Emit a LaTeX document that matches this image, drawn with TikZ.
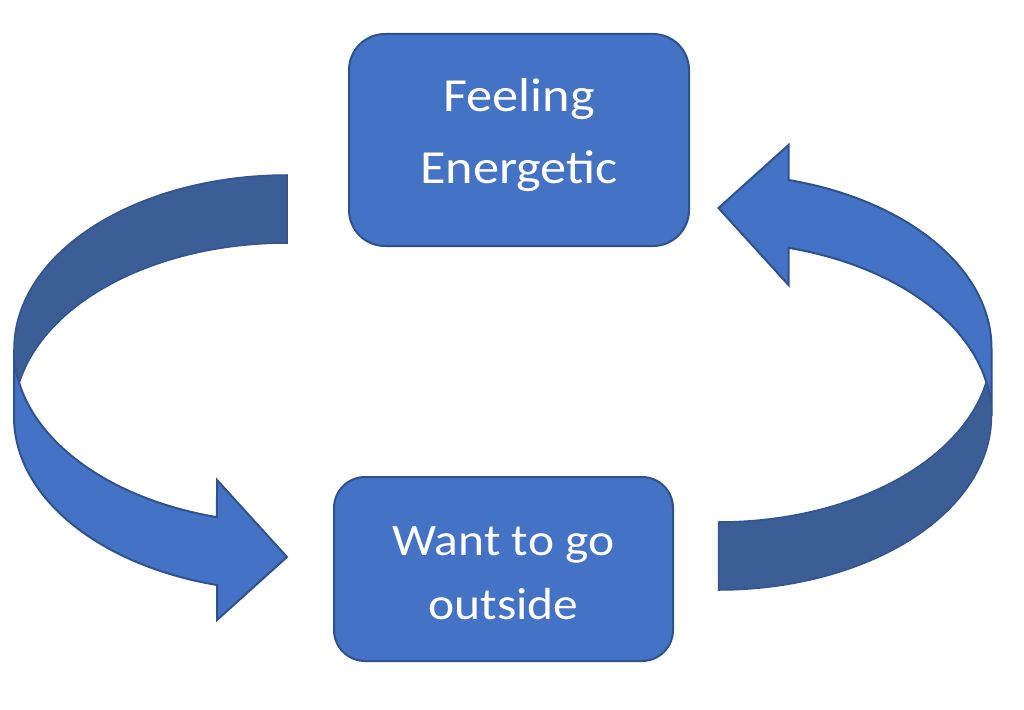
\documentclass[tikz,border=0pt]{standalone}
\usepackage{fontspec}
\usepackage{tikz}
\newfontfamily\boxfont[FakeStretch=1.1]{Carlito}
\definecolor{boxblue}{RGB}{68,114,196}
\definecolor{boxline}{RGB}{47,82,143}
\definecolor{backblue}{RGB}{60,94,150}

% struts fixing the height of the first and depth of the last line
\newcommand{\topstrut}{\rule[-25pt]{0pt}{65pt}}
\newcommand{\lowstrut}{\rule[-8.7pt]{0pt}{53.7pt}}

% one curved block arrow, tail top right, head bottom right
\newcommand{\loopbarrow}{%
%Front part with head
\draw [arrowfront] (14,349) arc [start angle=180, end angle=104.86, x radius=273, y radius=174]
  -- (217,480) -- (287,557) -- (217,620) -- (217,585)
  arc [start angle=104.86, end angle=180, x radius=273, y radius=174] -- cycle ;
%Back part
\draw [arrowback] (287,175) arc [start angle=270, end angle=168.73, x radius=273, y radius=174]
  arc [start angle=191.27, end angle=270, x radius=273, y radius=174] -- cycle ;
}

\begin{document}
\begin{tikzpicture}[x=1pt,y=1pt,yscale=-1,xscale=1,
  box/.style={draw=boxline, line width=2pt, fill=boxblue, text=white, align=center, inner sep=0pt},
  arrowfront/.style={draw=boxline, line width=2pt, fill=boxblue, line join=miter},
  arrowback/.style={draw=boxline!80!backblue, line width=1.5pt, fill=backblue}]
\path [fill=white, use as bounding box] (0,0) rectangle (1024,709) ;

%Left curved arrow
\loopbarrow
%Right curved arrow
\begin{scope}[shift={(1005.5,765)}, rotate=180]
\loopbarrow
\end{scope}

%Rounded boxes
\node (feel) [box, minimum width=340pt, minimum height=212pt, rounded corners=36pt,
  font=\boxfont\fontsize{47.5pt}{71.6pt}\selectfont] at (519,140)
  {\topstrut Feeling\\\topstrut Energetic};
\node (outside) [box, minimum width=339pt, minimum height=184pt, rounded corners=31pt,
  font=\boxfont\fontsize{45pt}{64.3pt}\selectfont] at (503.5,569)
  {\lowstrut Want to go\\\lowstrut outside};

\end{tikzpicture}
\end{document}
